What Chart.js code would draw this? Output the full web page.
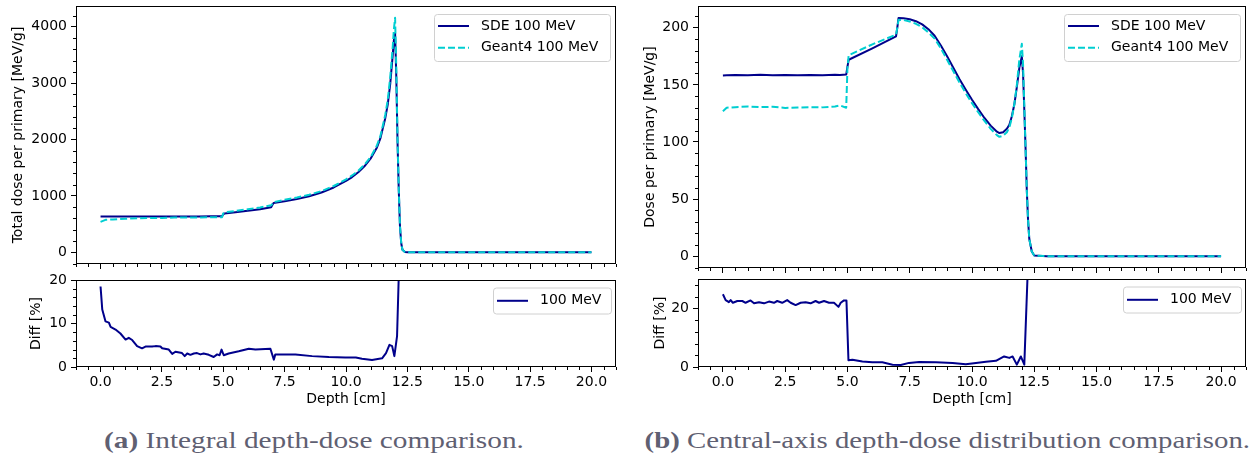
<!DOCTYPE html>
<html>
<head>
<meta charset="utf-8">
<script src="https://cdn.jsdelivr.net/npm/chart.js@4.4.0/dist/chart.umd.min.js"></script>
<style>
  html, body { margin: 0; padding: 0; background: #fff; }
  #wrap { position: relative; width: 1251px; height: 457px; overflow: hidden; }
  canvas { position: absolute; }
  .cap { position: absolute; top: 427px; white-space: nowrap; font-family: "Liberation Serif", serif;
         font-size: 24px; color: #5f6072; transform-origin: center top; }
  .cap b { font-weight: bold; }
</style>
</head>
<body>
<div id="wrap">
  <canvas id="intTop" width="625" height="278" style="left:0;top:0"></canvas>
  <canvas id="intDiff" width="625" height="138" style="left:0;top:272px"></canvas>
  <canvas id="cenTop" width="626" height="278" style="left:625px;top:0"></canvas>
  <canvas id="cenDiff" width="626" height="138" style="left:625px;top:272px"></canvas>
  <div class="cap" id="capA"><b>(a)</b> Integral depth-dose comparison.</div>
  <div class="cap" id="capB"><b>(b)</b> Central-axis depth-dose distribution comparison.</div>
</div>
<script>
// ---- tick labels ----
const depthTicks = [0, 2.5, 5, 7.5, 10, 12.5, 15, 17.5, 20];
const totalDoseTicks = [0, 1000, 2000, 3000, 4000];
const diffTicksA = [0, 10, 20];
const doseTicks = [0, 50, 100, 150, 200];
const diffTicksB = [0, 20];

// ---- (a) integral depth-dose ----
const depthIntegral = [0, 0.2, 0.5, 1, 1.5, 2, 2.5, 3, 3.5, 4, 4.5,
  4.95, 5.0, 5.05, 5.5, 6, 6.5, 6.95, 7.0, 7.05, 7.5,
  8, 8.5, 9, 9.5, 10, 10.25, 10.5, 10.75, 11, 11.25, 11.4, 11.5, 11.6,
  11.7, 11.8, 11.9, 11.95, 12.0, 12.05, 12.1, 12.15, 12.2, 12.25,
  12.3, 12.4, 12.5, 13, 14, 15, 16, 17, 18, 19, 20];
const sdeIntegral = [635, 635, 635, 635, 636, 636, 636, 636, 637, 637, 638,
  640, 670, 690, 710, 735, 765, 800, 840, 875, 905,
  945, 995, 1060, 1150, 1265, 1335, 1420, 1525, 1660, 1850, 2020, 2200, 2380,
  2620, 2980, 3480, 3760, 3890, 3100, 1950, 1100, 450, 160,
  45, 5, 1, 0, 0, 0, 0, 0, 0, 0, 0];
const g4Integral = [540, 575, 583, 595, 605, 607, 609, 615, 617, 618, 621,
  622, 690, 711, 733, 764, 796, 834, 860, 890, 931,
  971, 1020, 1085, 1176, 1293, 1363, 1447, 1553, 1687, 1885, 2060, 2245, 2440,
  2700, 3100, 3620, 3950, 4160, 3250, 2000, 1120, 460, 165,
  45, 5, 1, 0, 0, 0, 0, 0, 0, 0, 0];
const diffDepthA = [0, 0.07, 0.2, 0.34, 0.41, 0.61, 0.81, 1.02, 1.15, 1.29, 1.49, 1.69, 1.83, 2.1, 2.24,
  2.44, 2.51, 2.78, 2.92, 3.05, 3.32, 3.43, 3.53, 3.66, 3.8, 3.93, 4.07, 4.2, 4.41, 4.61, 4.75,
  4.85, 4.93, 5.02, 5.22, 5.63, 6.04, 6.31, 6.92, 7.06, 7.12, 7.4, 7.94, 8.62, 9.3, 9.97, 10.4,
  10.65, 11.06, 11.47, 11.63, 11.77, 11.88, 11.97, 12.08, 12.15, 12.2];
const diffA = [18.5, 13.2, 10.5, 10.2, 9.2, 8.6, 7.7, 6.3, 6.7, 6.2, 4.8, 4.3, 4.7, 4.7, 4.8,
  4.7, 4.3, 4.0, 3.0, 3.5, 3.2, 2.5, 3.1, 2.8, 3.1, 3.2, 2.9, 3.1, 2.8, 2.3, 2.9,
  2.7, 4.0, 2.7, 3.1, 3.6, 4.2, 4.0, 4.2, 1.7, 2.9, 2.9, 2.9, 2.5, 2.3, 2.2, 2.2,
  1.9, 1.6, 2.0, 3.2, 5.1, 4.8, 2.5, 7.1, 21, 60];

// ---- (b) central-axis depth-dose ----
const depthCentral = [0, 0.15, 0.5, 1, 1.5, 2, 2.5, 3, 3.5, 4,
  4.5, 4.7, 4.95, 5.0, 5.05, 6, 6.95, 7.0, 7.05, 7.25, 7.5, 7.75,
  8, 8.25, 8.5, 8.75, 9, 9.25, 9.5, 9.75, 10, 10.25, 10.5, 10.75, 11, 11.1, 11.25, 11.4, 11.5, 11.6,
  11.7, 11.8, 11.9, 12.0, 12.05, 12.1, 12.15, 12.2, 12.25, 12.3,
  12.4, 12.5, 13, 14, 15, 16, 17, 18, 19, 20];
const sdeCentral = [158.3, 158.5, 158.6, 158.5, 158.8, 158.4, 158.7, 158.5, 158.6, 158.4,
  158.8, 158.7, 159.0, 166, 172, 182, 192.5, 200, 208.5, 208.3, 207.5, 205.8,
  203, 198.8, 193, 184.5, 175, 165, 155, 145.8, 137, 128.8, 121, 114.3, 109, 107.8, 108.5, 111.5, 115, 122.5,
  133, 148, 165, 175, 160, 128, 95, 58, 32, 15,
  4, 0.5, 0, 0, 0, 0, 0, 0, 0, 0];
const g4Central = [127, 130, 130.5, 131, 130.5, 130.8, 129.8, 130.2, 130.5, 130.3,
  131, 132, 130, 165, 176, 185.5, 194, 200, 207, 206.8, 205.5, 203.5,
  200.5, 196, 190.5, 182, 172, 162, 152, 142.7, 134, 126, 118.5, 111.5, 106, 104.5, 105.5, 108.5, 113, 121,
  133, 150, 172, 186, 168, 132, 95, 58, 32, 15,
  4, 0.5, 0, 0, 0, 0, 0, 0, 0, 0];
const diffDepthB = [0, 0.11, 0.24, 0.31, 0.4, 0.58, 0.78, 0.91, 1.11, 1.25, 1.45, 1.65, 1.85, 2.05, 2.18,
  2.38, 2.58, 2.72, 2.92, 3.12, 3.32, 3.52, 3.72, 3.86, 4.06, 4.26, 4.46, 4.64, 4.73, 4.86, 4.96,
  5.04, 5.2, 5.6, 6.0, 6.4, 6.81, 7.14, 7.47, 7.88, 8.55, 9.22, 9.75, 10.16, 10.56, 10.96, 11.29,
  11.5, 11.63, 11.8, 11.96, 12.1, 12.23, 12.3];
const diffB = [24.8, 22.8, 22.1, 22.8, 21.9, 22.5, 22.5, 21.9, 22.7, 21.7, 22.1, 21.7, 22.3, 21.9, 22.5,
  21.9, 22.8, 21.9, 21.1, 21.9, 22.1, 21.7, 22.5, 21.9, 22.5, 21.9, 21.9, 20.5, 21.9, 22.7, 22.7,
  2.3, 2.5, 1.9, 1.6, 1.6, 0.8, 0.7, 1.4, 1.7, 1.6, 1.4, 0.9, 1.4, 1.8, 2.1, 3.6,
  3.1, 3.6, 0.8, 3.6, 0.8, 31, 80];

const SDE_COLOR = '#00008b';
const G4_COLOR = '#00ced1';

Chart.defaults.font.family = "'DejaVu Sans', sans-serif";
Chart.defaults.font.size = 14;
Chart.defaults.color = '#000';

const pts = (xs, ys) => xs.map((x, i) => ({ x: x, y: ys[i] }));

// frame, minor ticks and matplotlib-like legend box
const framePlugin = {
  id: 'frame',
  afterDraw(chart, args, opts) {
    const ctx = chart.ctx, a = chart.chartArea;
    const xs = chart.scales.x, ys = chart.scales.y;
    ctx.save();
    ctx.strokeStyle = '#000';
    ctx.lineWidth = 1;
    ctx.beginPath();
    for (let k = -2; k <= 42; k++) {
      if (k % 5 === 0) continue;
      const px = Math.round(xs.getPixelForValue(k * 0.5)) + 0.5;
      ctx.moveTo(px, a.bottom); ctx.lineTo(px, a.bottom + 3);
    }
    const st = opts.yMinor;
    for (let v = Math.ceil(ys.min / st) * st; v <= ys.max; v += st) {
      if (chart.options.scales.y.majors.includes(Math.round(v * 1000) / 1000)) continue;
      const py = Math.round(ys.getPixelForValue(v)) + 0.5;
      ctx.moveTo(a.left, py); ctx.lineTo(a.left - 3, py);
    }
    ctx.stroke();
    ctx.strokeRect(Math.round(a.left) + 0.5, Math.round(a.top) + 0.5,
      Math.round(a.right - a.left) - 1, Math.round(a.bottom - a.top) - 1);

    const lg = opts.legend;
    const bx = a.right - lg.inset - lg.w, by = a.top + lg.top;
    ctx.beginPath();
    ctx.roundRect(bx + 0.5, by + 0.5, lg.w, lg.h, 3);
    ctx.fillStyle = 'rgba(255,255,255,0.8)';
    ctx.fill();
    ctx.strokeStyle = '#d0d0d0';
    ctx.stroke();
    ctx.font = "14px 'DejaVu Sans'";
    ctx.textBaseline = 'middle';
    chart.data.datasets.forEach((ds, i) => {
      const cy = by + lg.first + i * lg.row;
      ctx.beginPath();
      ctx.setLineDash(ds.borderDash || []);
      ctx.strokeStyle = ds.borderColor;
      ctx.lineWidth = ds.borderWidth;
      ctx.moveTo(bx + 4, cy); ctx.lineTo(bx + 35, cy);
      ctx.stroke();
      ctx.setLineDash([]);
      ctx.fillStyle = '#000';
      ctx.fillText(ds.label, bx + 47, cy);
    });
    ctx.restore();
  }
};

// fixed axis boxes so every plot area lands where the reference has it
const fixBox = (s, w, h) => {
  if (w !== null) s.width = w;
  if (h !== null) s.height = h;
  s.paddingTop = 0; s.paddingBottom = 0; s.paddingLeft = 0; s.paddingRight = 0;
};

function depthChart(id, p) {
  return new Chart(document.getElementById(id), {
    type: 'line',
    data: { datasets: p.datasets },
    options: {
      responsive: false,
      animation: false,
      layout: { padding: { top: p.padTop, right: p.padRight, left: 0, bottom: 0 } },
      elements: { point: { radius: 0 }, line: { tension: 0, borderJoinStyle: 'round' } },
      plugins: {
        legend: { display: false },
        tooltip: { enabled: false },
        frame: { yMinor: p.yMinor, legend: p.legend }
      },
      scales: {
        x: {
          type: 'linear', min: -1, max: 21,
          afterBuildTicks: s => { s.ticks = depthTicks.map(v => ({ value: v })); },
          afterFit: s => fixBox(s, null, p.xHeight),
          grid: { drawOnChartArea: false, tickLength: 5, tickColor: '#000', tickWidth: 1 },
          border: { display: false },
          ticks: { display: p.xLabels, padding: 2, maxRotation: 0, callback: v => v.toFixed(1) },
          title: { display: p.xLabels, text: 'Depth [cm]', padding: { top: 0, bottom: 2 } }
        },
        y: {
          type: 'linear', min: p.yMin, max: p.yMax,
          majors: p.yTicks,
          afterBuildTicks: s => { s.ticks = p.yTicks.map(v => ({ value: v })); },
          afterFit: s => fixBox(s, p.yWidth, null),
          grid: { drawOnChartArea: false, tickLength: 5, tickColor: '#000', tickWidth: 1 },
          border: { display: false },
          ticks: { padding: 4, callback: v => String(v) },
          title: { display: true, text: p.yTitle, padding: { top: p.yTitlePad, bottom: 0 } }
        }
      }
    },
    plugins: [framePlugin]
  });
}

const sdeSet = (label, xs, ys) => ({ label: label, data: pts(xs, ys), borderColor: SDE_COLOR,
  borderWidth: 2, order: 1 });
const g4Set = (xs, ys) => ({ label: 'Geant4 100 MeV', data: pts(xs, ys), borderColor: G4_COLOR,
  borderWidth: 2, borderDash: [7, 3], order: 0 });

const topLegend = { inset: 6, top: 8, w: 176, h: 47, first: 12, row: 21.7 };
const diffLegend = { inset: 5, top: 7.5, w: 118, h: 26, first: 13.3, row: 0 };

depthChart('intTop', {
  datasets: [sdeSet('SDE 100 MeV', depthIntegral, sdeIntegral), g4Set(depthIntegral, g4Integral)],
  padTop: 6, padRight: 9, xHeight: 14, yWidth: 76, xLabels: false,
  yMin: -208, yMax: 4370, yTicks: totalDoseTicks, yMinor: 200,
  yTitle: 'Total dose per primary [MeV/g]', yTitlePad: 10, legend: topLegend
});
depthChart('intDiff', {
  datasets: [sdeSet('100 MeV', diffDepthA, diffA)],
  padTop: 8, padRight: 9, xHeight: 43, yWidth: 76, xLabels: true,
  yMin: 0, yMax: 20, yTicks: diffTicksA, yMinor: 2,
  yTitle: 'Diff [%]', yTitlePad: 28, legend: diffLegend
});
depthChart('cenTop', {
  datasets: [sdeSet('SDE 100 MeV', depthCentral, sdeCentral), g4Set(depthCentral, g4Central)],
  padTop: 6, padRight: 5, xHeight: 10, yWidth: 73, xLabels: false,
  yMin: -10.4, yMax: 219.1, yTicks: doseTicks, yMinor: 10,
  yTitle: 'Dose per primary [MeV/g]', yTitlePad: 17, legend: topLegend
});
depthChart('cenDiff', {
  datasets: [sdeSet('100 MeV', diffDepthB, diffB)],
  padTop: 7, padRight: 5, xHeight: 43, yWidth: 73, xLabels: true,
  yMin: 0, yMax: 30, yTicks: diffTicksB, yMinor: 4,
  yTitle: 'Diff [%]', yTitlePad: 27, legend: diffLegend
});

// captions: fit the serif text to the reference widths
function placeCaption(id, center, width) {
  const el = document.getElementById(id);
  const k = width / el.offsetWidth;
  el.style.left = (center - el.offsetWidth / 2) + 'px';
  el.style.transform = 'scaleX(' + k + ')';
}
placeCaption('capA', 314, 420);
placeCaption('capB', 947, 606);
</script>
</body>
</html>
